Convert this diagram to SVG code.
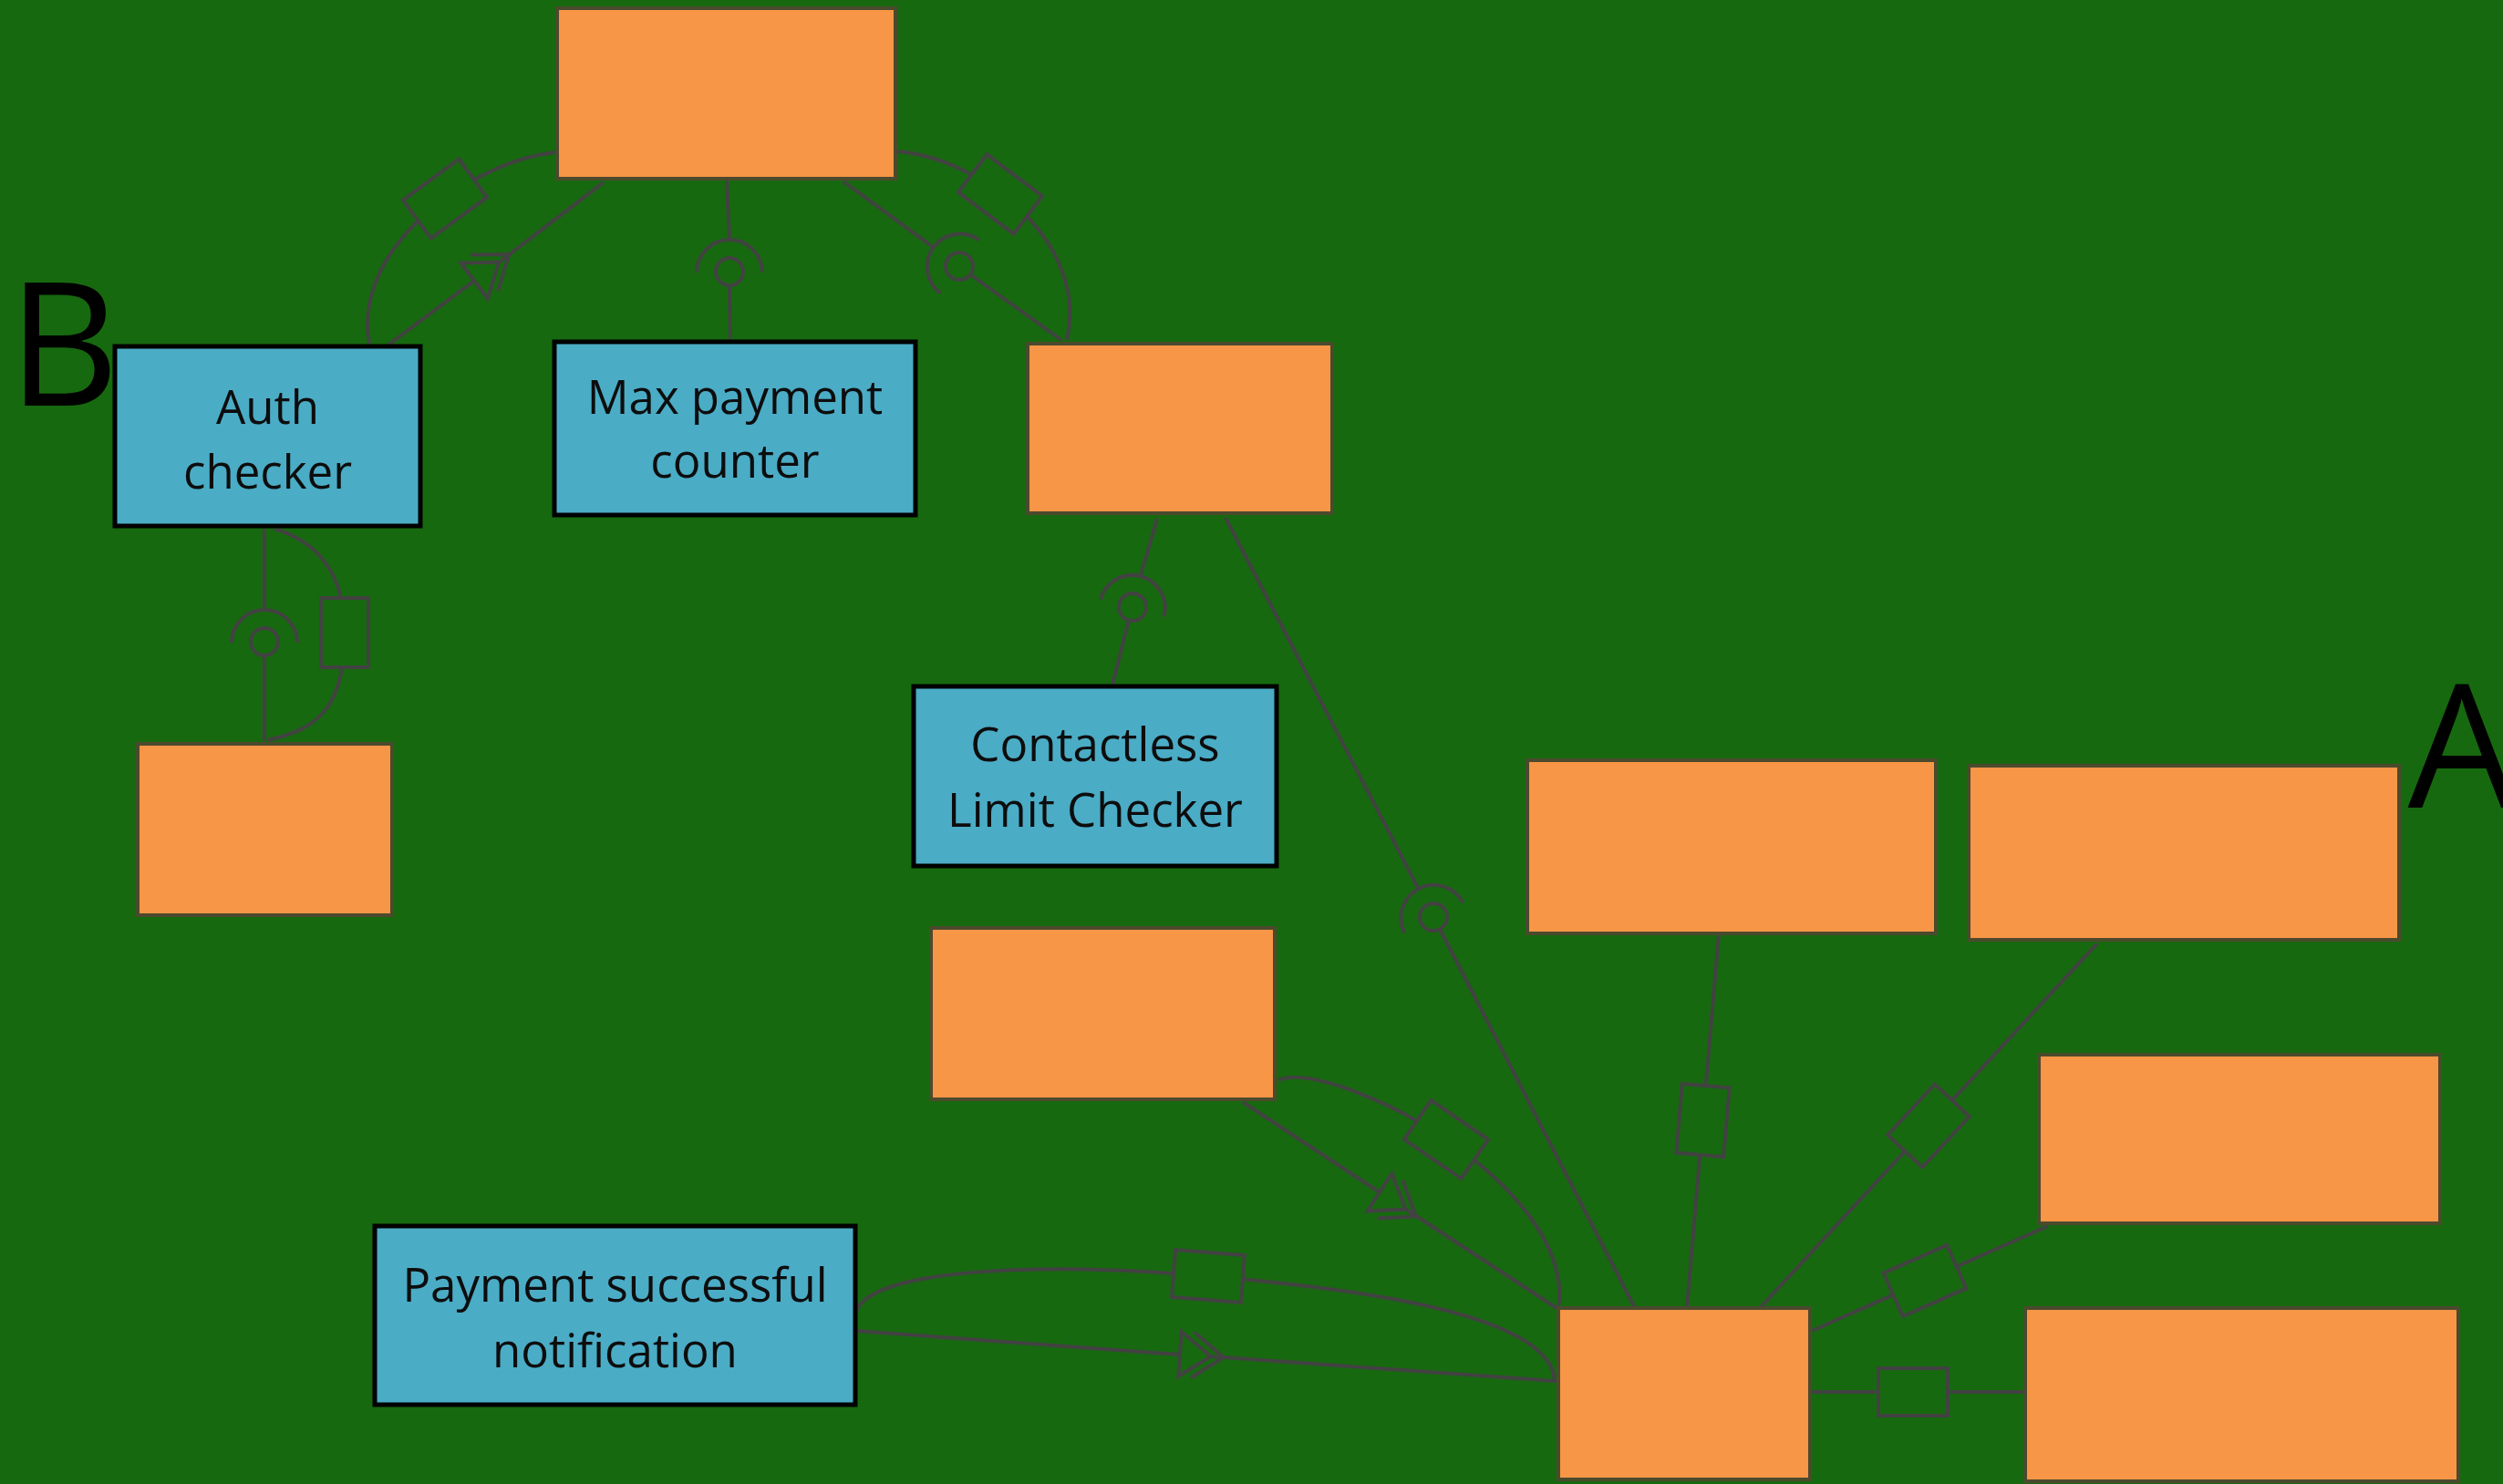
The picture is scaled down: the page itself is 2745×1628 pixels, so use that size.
<svg xmlns="http://www.w3.org/2000/svg" xmlns:xlink="http://www.w3.org/1999/xlink" width="2745" height="1628" viewBox="0 0 2745 1628">
<style>
.bg{fill:#17690f}
.on{fill:#f79646;stroke:#4b4a2d;stroke-width:4}
.bl{fill:#4bacc6;stroke:#000;stroke-width:5}
.tx{font-family:"Open Sans","Noto Sans","DejaVu Sans",sans-serif;font-size:51px;fill:#0d0d0d;text-anchor:middle}
.big{font-family:"Open Sans","Noto Sans","DejaVu Sans",sans-serif;font-size:188px;fill:#000}
.ln{fill:none;stroke:#424242;stroke-width:4;stroke-linejoin:miter}
.sym{fill:#17690f;stroke:#424242;stroke-width:4}
</style>
<defs>
<g id="sock" fill="none" stroke="#424242" stroke-width="4">
<path d="M1,-36 A36,36 0 0 0 1,36"/>
<circle cx="0" cy="0" r="15" fill="#17690f"/>
</g>
<rect id="box" x="-38" y="-26" width="76" height="52" fill="#17690f" stroke="#424242" stroke-width="4"/>
<g id="arr" stroke="#424242" stroke-width="4">
<path d="M0,-24.5 L34,0 L0,24.5 Z" fill="#17690f"/>
<path d="M14,-25 L48,0 L14,25" fill="none"/>
</g>
</defs>
<rect class="bg" x="0" y="0" width="2745" height="1628"/>

<g id="connectors">
<!-- top - auth curve -->
<path class="ln" d="M611,167 C520,175 385,270 405,377"/>
<use href="#box" transform="translate(488,218) rotate(143.8)"/>
<!-- top - auth arrow line -->
<path class="ln" d="M425,379 L520,308 M547,288 L662,200"/>
<use href="#arr" transform="translate(520,308) rotate(-37.1)"/>
<!-- top - max payment -->
<path class="ln" d="M797,198 L800,262 M800,313 L801,375"/>
<use href="#sock" transform="translate(800,298) rotate(90)"/>
<!-- top - node4 curve -->
<path class="ln" d="M982,166 C1075,172 1195,265 1170,373"/>
<use href="#box" transform="translate(1097,213) rotate(37)"/>
<!-- top - node4 socket line -->
<path class="ln" d="M925,199 L1023,271 M1064,301 L1164,373"/>
<use href="#sock" transform="translate(1052,292) rotate(36.1)"/>
<!-- auth - node5 socket -->
<path class="ln" d="M290,580 L290,668 M290,719 L290,813"/>
<use href="#sock" transform="translate(290,704) rotate(90)"/>
<!-- auth - node5 curve -->
<path class="ln" d="M301,580 C350,595 378,630 378,694 C378,775 350,800 293,812"/>
<use href="#box" transform="translate(378,694) rotate(90)"/>
<!-- node4 - contactless -->
<path class="ln" d="M1269,569 L1251,631 M1238,680 L1220,751"/>
<use href="#sock" transform="translate(1242,666) rotate(105.1)"/>
<!-- node4 - hub long line -->
<path class="ln" d="M1344,568 L1555,974 M1579,1019 L1793,1435"/>
<use href="#sock" transform="translate(1572,1006) rotate(62.6)"/>
<!-- node7 - hub curve -->
<path class="ln" d="M1402,1185 C1462,1160 1730,1300 1709,1435"/>
<use href="#box" transform="translate(1586,1250) rotate(34.5)"/>
<!-- node7 - hub arrow -->
<path class="ln" d="M1363,1209 L1513,1308 M1541,1326 L1707,1435"/>
<use href="#arr" transform="translate(1513,1308) rotate(33.3)"/>
<!-- payment - hub curve -->
<path class="ln" d="M939,1438 C960,1390 1150,1385 1325,1400 C1480,1413 1705,1440 1705,1517"/>
<use href="#box" transform="translate(1325,1400) rotate(4.5)"/>
<!-- payment - hub arrow -->
<path class="ln" d="M939,1460 L1294,1486 M1328,1488 L1705,1515"/>
<use href="#arr" transform="translate(1294,1485.5) rotate(4.1)"/>
<!-- node9 - hub -->
<path class="ln" d="M1885,1024 L1850,1435"/>
<use href="#box" transform="translate(1867.5,1229) rotate(94.9)"/>
<!-- node10 - hub -->
<path class="ln" d="M2300,1035 L1930,1435"/>
<use href="#box" transform="translate(2115,1235) rotate(132.8)"/>
<!-- node11 - hub -->
<path class="ln" d="M2246,1345 L1987,1460"/>
<use href="#box" transform="translate(2111,1405) rotate(156.1)"/>
<!-- hub - node12 -->
<path class="ln" d="M1985,1527 L2221,1527"/>
<use href="#box" transform="translate(2098,1527)"/>
</g>

<g id="n-top"><rect class="on" x="611" y="9" width="371" height="187"/></g>
<g id="n-auth"><rect class="bl" x="126" y="380" width="335" height="197"/>
<text class="tx" x="293.5" y="465">Auth</text><text class="tx" x="293.5" y="536">checker</text></g>
<g id="n-maxpay"><rect class="bl" x="608" y="375" width="396" height="190"/>
<text class="tx" x="806" y="454">Max payment</text><text class="tx" x="806" y="524">counter</text></g>
<g id="n-4"><rect class="on" x="1127" y="377" width="334" height="186"/></g>
<g id="n-5"><rect class="on" x="151" y="816" width="279" height="188"/></g>
<g id="n-contactless"><rect class="bl" x="1002" y="753" width="398" height="197"/>
<text class="tx" x="1201" y="835">Contactless</text><text class="tx" x="1201" y="907">Limit Checker</text></g>
<g id="n-7"><rect class="on" x="1021" y="1018" width="377" height="188"/></g>
<g id="n-payment"><rect class="bl" x="411" y="1345" width="527" height="196"/>
<text class="tx" x="674.5" y="1428">Payment successful</text><text class="tx" x="674.5" y="1500">notification</text></g>
<g id="n-9"><rect class="on" x="1675" y="834" width="448" height="190"/></g>
<g id="n-10"><rect class="on" x="2159" y="840" width="472" height="191"/></g>
<g id="n-11"><rect class="on" x="2236" y="1157" width="440" height="185"/></g>
<g id="n-12"><rect class="on" x="2221" y="1435" width="475" height="190"/></g>
<g id="n-hub"><rect class="on" x="1709" y="1435" width="276" height="188"/></g>

<text class="big" x="9" y="445">B</text>
<text class="big" x="2700" y="886" text-anchor="middle">A</text>
</svg>
